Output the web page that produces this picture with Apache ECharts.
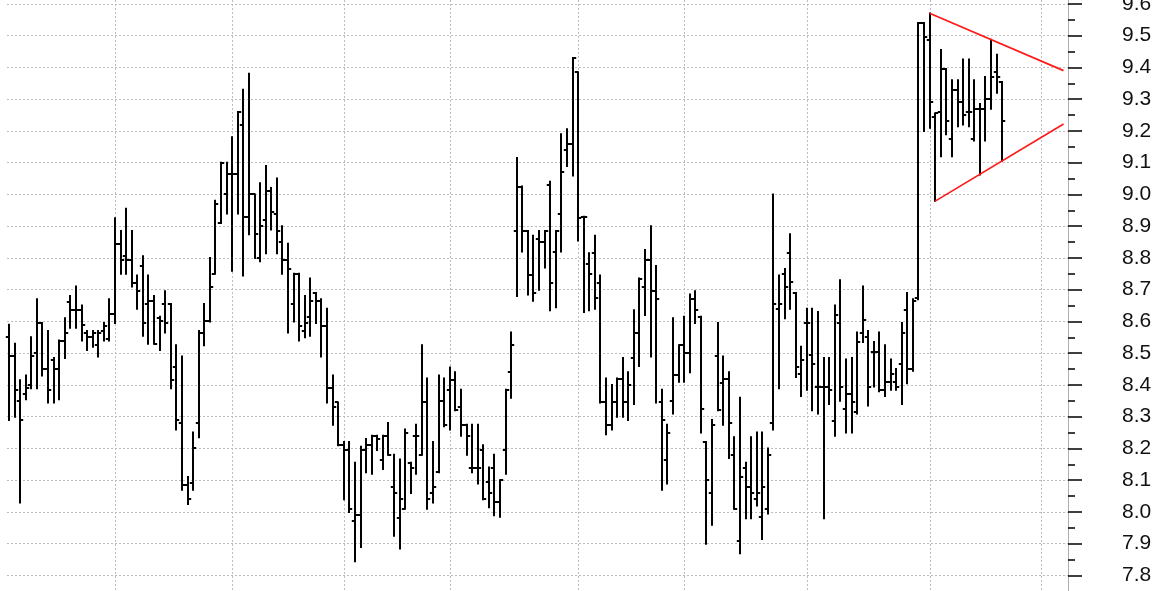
<!DOCTYPE html>
<html>
<head>
<meta charset="utf-8">
<script src="https://cdn.jsdelivr.net/npm/echarts@6/dist/echarts.min.js"></script>
<style>
html,body{margin:0;padding:0;background:#fff;}
#chart{width:1166px;height:591px;}
</style>
</head>
<body>
<div id="chart"></div>
<script>
// ---- data (bar index = trading day) ----
const opens = [
8.55,8.49,8.35,8.37,8.40,8.50,8.595,8.45,8.48,8.45,8.54,8.66,8.635,8.635,8.565,8.55,8.525,8.57,8.545,8.625,
8.845,8.805,8.795,8.72,8.775,8.655,8.665,8.61,8.655,8.655,8.455,8.28,8.085,8.09,8.28,8.565,8.60,8.75,8.91,9.0,
9.065,9.065,9.22,8.93,9.0,8.80,8.92,9.01,8.94,8.85,8.795,8.655,8.75,8.57,8.615,8.69,8.665,8.585,8.39,8.345,
8.21,8.195,7.97,7.99,8.195,8.21,8.24,8.165,8.24,8.08,7.98,8.01,8.155,8.24,8.18,8.345,8.06,8.125,8.35,8.385,
8.415,8.33,8.275,8.14,8.14,8.195,8.095,8.14,8.03,8.195,8.44,8.885,9.025,8.885,8.745,8.86,8.85,9.03,8.82,8.94,
9.14,9.16,9.385,8.93,8.78,8.815,8.72,8.345,8.275,8.345,8.42,8.345,8.485,8.565,8.71,8.795,8.695,8.345,8.165,8.35,
8.43,8.525,8.50,8.67,8.615,8.22,8.06,8.49,8.405,8.42,8.18,7.91,8.14,8.08,8.04,7.985,8.01,8.28,8.64,8.75,
8.815,8.69,8.435,8.595,8.495,8.395,8.395,8.395,8.285,8.595,8.325,8.37,8.315,8.565,8.55,8.505,8.505,8.385,8.41,8.41,
8.465,8.635,8.45,8.675,9.54,9.485,9.245,9.26,9.395,9.175,9.33,9.29,9.26,9.175,9.27,9.27,9.30,9.385,9.354
];
const highs = [
8.59,8.53,8.415,8.43,8.55,8.67,8.595,8.57,8.485,8.54,8.61,8.68,8.71,8.65,8.57,8.57,8.57,8.595,8.67,8.925,
8.885,8.955,8.885,8.745,8.805,8.745,8.68,8.615,8.695,8.655,8.525,8.49,8.11,8.25,8.57,8.655,8.80,8.98,9.10,9.10,
9.18,9.26,9.33,9.38,9.0,9.035,9.09,9.02,9.05,8.90,8.845,8.75,8.75,8.68,8.735,8.69,8.67,8.64,8.43,8.345,
8.22,8.22,8.155,8.205,8.23,8.24,8.24,8.24,8.28,8.18,8.165,8.26,8.155,8.275,8.525,8.42,8.22,8.43,8.42,8.455,
8.44,8.385,8.275,8.275,8.275,8.21,8.14,8.18,8.10,8.385,8.565,9.115,9.025,8.885,8.87,8.885,8.885,9.04,8.885,9.19,
9.205,9.43,9.385,8.93,8.815,8.87,8.745,8.42,8.40,8.42,8.485,8.44,8.635,8.735,8.825,8.90,8.775,8.385,8.275,8.61,
8.525,8.615,8.685,8.695,8.615,8.22,8.29,8.595,8.49,8.44,8.235,8.36,8.155,8.235,8.25,8.25,8.20,9.0,8.745,8.765,
8.875,8.69,8.52,8.64,8.64,8.63,8.485,8.485,8.65,8.73,8.48,8.485,8.565,8.71,8.57,8.535,8.565,8.525,8.48,8.45,
8.595,8.69,8.67,9.54,9.54,9.57,9.255,9.455,9.395,9.36,9.36,9.425,9.425,9.36,9.285,9.37,9.487,9.44,9.354
];
const lows = [
8.29,8.30,8.03,8.355,8.39,8.39,8.43,8.345,8.345,8.355,8.485,8.58,8.58,8.54,8.51,8.52,8.49,8.54,8.54,8.595,
8.75,8.75,8.71,8.64,8.555,8.53,8.53,8.51,8.565,8.39,8.26,8.07,8.025,8.07,8.235,8.525,8.60,8.75,8.91,8.94,
8.76,8.94,8.745,8.875,8.80,8.79,8.815,8.89,8.815,8.75,8.565,8.60,8.54,8.55,8.555,8.595,8.49,8.345,8.275,8.21,
8.04,8.0,7.845,7.89,8.125,8.12,8.195,8.135,8.18,7.925,7.885,8.01,8.06,8.12,8.18,8.01,8.03,8.125,8.27,8.26,
8.32,8.24,8.18,8.125,8.09,8.04,8.015,7.99,7.985,8.12,8.36,8.68,8.82,8.685,8.665,8.70,8.77,8.635,8.645,8.82,
9.09,9.06,8.855,8.63,8.635,8.64,8.345,8.245,8.26,8.30,8.30,8.29,8.34,8.46,8.62,8.49,8.345,8.07,8.09,8.31,
8.41,8.41,8.44,8.595,8.25,7.90,7.96,8.32,8.275,8.17,8.01,7.87,7.98,7.98,8.02,7.915,7.995,8.26,8.39,8.61,
8.64,8.425,8.365,8.385,8.32,8.31,7.98,8.34,8.24,8.35,8.25,8.25,8.31,8.535,8.335,8.395,8.38,8.365,8.385,8.385,
8.34,8.405,8.445,8.67,9.20,9.21,8.98,9.12,9.19,9.12,9.215,9.22,9.215,9.17,9.063,9.17,9.27,9.32,9.106
];
const closes = [
8.49,8.385,8.29,8.39,8.49,8.595,8.45,8.385,8.45,8.54,8.565,8.635,8.635,8.59,8.55,8.565,8.565,8.585,8.625,8.845,
8.795,8.795,8.72,8.695,8.595,8.665,8.53,8.60,8.595,8.415,8.29,8.085,8.04,8.20,8.565,8.60,8.71,8.97,9.10,9.065,
9.065,9.26,8.93,9.0,8.875,8.90,9.01,8.945,8.885,8.795,8.765,8.75,8.585,8.595,8.665,8.665,8.585,8.39,8.33,8.21,
8.195,8.01,7.99,8.195,8.21,8.24,8.23,8.24,8.18,8.06,8.04,8.25,8.14,8.24,8.345,8.04,8.08,8.35,8.275,8.415,
8.32,8.275,8.24,8.14,8.14,8.04,8.06,8.03,8.10,8.385,8.525,9.025,8.885,8.745,8.69,8.85,8.885,8.72,8.885,9.07,
9.16,9.43,8.925,8.93,8.75,8.675,8.345,8.275,8.345,8.42,8.345,8.40,8.565,8.735,8.795,8.695,8.67,8.29,8.25,8.43,
8.525,8.50,8.67,8.635,8.325,8.10,8.275,8.32,8.42,8.28,8.01,8.11,8.08,8.06,8.06,8.08,8.18,8.655,8.655,8.71,
8.725,8.455,8.48,8.595,8.465,8.395,8.395,8.385,8.62,8.395,8.37,8.345,8.535,8.605,8.395,8.505,8.385,8.41,8.435,8.395,
8.565,8.45,8.665,9.54,9.495,9.29,9.255,9.395,9.23,9.33,9.29,9.25,9.26,9.27,9.27,9.30,9.37,9.37,9.23
];
// first trading day of each month (bar index)
const monthStarts = [19, 40, 60, 79, 102, 121, 143, 165, 185];
// triangle trend lines [barIndex, price]
const upperTrend = [[165, 9.571], [189, 9.39]];
const lowerTrend = [[166, 8.979], [189, 9.222]];
// y axis
const yMin = 7.8, yMax = 9.6, yStep = 0.1;

// ---- build ----
const ohlc = opens.map((o, i) => [i, o, highs[i], lows[i], closes[i]]);
const xMin = -0.36, xMax = 189.8;

function renderOHLC(params, api) {
  const i = api.value(0);
  const po = api.coord([i, api.value(1)]);
  const ph = api.coord([i, api.value(2)]);
  const pl = api.coord([i, api.value(3)]);
  const pc = api.coord([i, api.value(4)]);
  const x = Math.round(po[0]);
  const st = {stroke: '#000', lineWidth: 2};
  return {
    type: 'group',
    children: [
      {type: 'line', shape: {x1: x, y1: ph[1], x2: x, y2: pl[1]}, style: Object.assign({lineCap: 'square'}, st)},
      {type: 'line', shape: {x1: x - 3.2, y1: Math.round(po[1]), x2: x, y2: Math.round(po[1])}, style: st},
      {type: 'line', shape: {x1: x, y1: Math.round(pc[1]), x2: x + 3.2, y2: Math.round(pc[1])}, style: st}
    ]
  };
}
function renderVGrid(params, api) {
  const p = api.coord([api.value(0), 0]);
  const cs = params.coordSys;
  const x = Math.round(p[0]) + 0.5;
  return {type: 'line', shape: {x1: x, y1: cs.y, x2: x, y2: cs.y + cs.height},
          style: {stroke: '#bdbdbd', lineWidth: 1, lineDash: [2, 2]}};
}

const chart = echarts.init(document.getElementById('chart'), null, {renderer: 'canvas'});
chart.setOption({
  animation: false,
  backgroundColor: '#ffffff',
  grid: [
    {left: 7, right: 98, top: 3.95, bottom: 15.55, containLabel: false, outerBoundsMode: 'none'},
    {left: 7, right: 98, top: 0, bottom: 0, containLabel: false, outerBoundsMode: 'none'}
  ],
  xAxis: [
    {gridIndex: 0, type: 'value', min: xMin, max: xMax, show: false, axisLine: {onZero: false}},
    {gridIndex: 1, type: 'value', min: xMin, max: xMax, show: false, axisLine: {onZero: false}}
  ],
  yAxis: [
    {
      gridIndex: 0, type: 'value', position: 'right', min: yMin, max: yMax, interval: yStep,
      axisLine: {show: false, onZero: false},
      axisTick: {show: true, length: 14, lineStyle: {color: '#000', width: 1.5}},
      minorTick: {show: true, splitNumber: 2, length: 7, lineStyle: {color: '#000', width: 1.5}},
      axisLabel: {margin: 54, fontSize: 21, color: '#111',
        fontFamily: '"Liberation Sans", Arial, Helvetica, sans-serif',
        formatter: v => v.toFixed(1)},
      splitLine: {show: true, lineStyle: {color: '#bdbdbd', width: 1, type: [2, 2]}}
    },
    {
      gridIndex: 1, type: 'value', position: 'right', min: 0, max: 1,
      axisLine: {show: true, onZero: false, lineStyle: {color: '#b0b0b0', width: 1}},
      axisTick: {show: false}, axisLabel: {show: false}, splitLine: {show: false}
    }
  ],
  series: [
    {type: 'custom', xAxisIndex: 1, yAxisIndex: 1, z: 1, silent: true,
     renderItem: renderVGrid, data: monthStarts.map(m => [m, 0])},
    {type: 'custom', xAxisIndex: 0, yAxisIndex: 0, z: 3, silent: true,
     renderItem: renderOHLC, data: ohlc, clip: false},
    {type: 'line', xAxisIndex: 0, yAxisIndex: 0, z: 4, data: upperTrend, symbol: 'none',
     lineStyle: {color: '#ff1a1a', width: 1.7}, silent: true},
    {type: 'line', xAxisIndex: 0, yAxisIndex: 0, z: 4, data: lowerTrend, symbol: 'none',
     lineStyle: {color: '#ff1a1a', width: 1.7}, silent: true}
  ]
});
</script>
</body>
</html>
